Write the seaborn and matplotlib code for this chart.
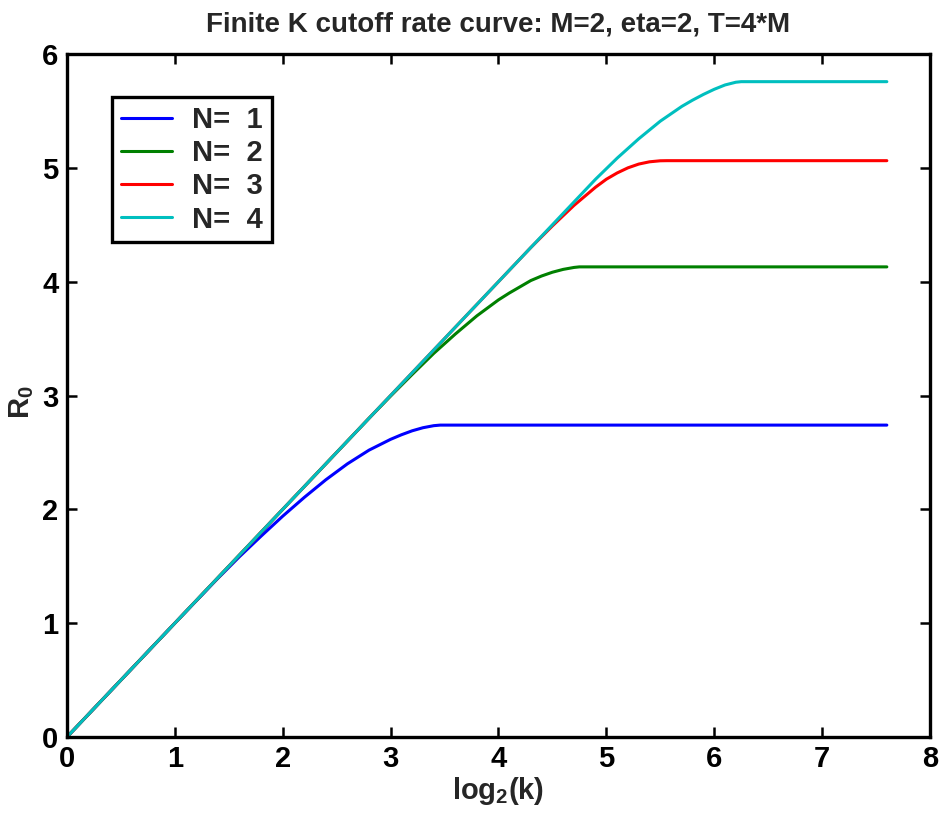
import numpy as np
import pandas as pd
import matplotlib
matplotlib.use("Agg")
import matplotlib.pyplot as plt
import seaborn as sns
from matplotlib.lines import Line2D

# ---- data ----
x_n1 = [0.0, 1.0, 1.4, 1.6, 1.8, 2.0, 2.2, 2.4, 2.6, 2.8, 3.0, 3.1, 3.2, 3.3, 3.4, 3.46, 7.6]
y_n1 = [0.0, 1.0, 1.395, 1.585, 1.765, 1.94, 2.105, 2.26, 2.40, 2.52, 2.615, 2.655, 2.69, 2.717, 2.735, 2.74, 2.74]

x_n2 = [0.0, 2.8, 3.0, 3.2, 3.4, 3.6, 3.8, 4.0, 4.1, 4.2, 4.3, 4.4, 4.5, 4.6, 4.7, 4.75, 7.6]
y_n2 = [0.0, 2.8, 2.995, 3.185, 3.37, 3.54, 3.70, 3.84, 3.90, 3.955, 4.01, 4.05, 4.083, 4.108, 4.125, 4.13, 4.13]

x_n3 = [0.0, 4.3, 4.5, 4.7, 4.9, 5.0, 5.1, 5.2, 5.3, 5.4, 5.5, 5.56, 7.6]
y_n3 = [0.0, 4.3, 4.49, 4.67, 4.83, 4.9, 4.955, 5.0, 5.033, 5.053, 5.062, 5.063, 5.063]

x_n4 = [0.0, 4.9, 5.1, 5.3, 5.5, 5.7, 5.8, 5.9, 6.0, 6.1, 6.2, 6.25, 7.6]
y_n4 = [0.0, 4.9, 5.085, 5.255, 5.41, 5.54, 5.595, 5.645, 5.69, 5.728, 5.752, 5.757, 5.757]

labels = ["N=  1", "N=  2", "N=  3", "N=  4"]
colors = ["#0000ff", "#008000", "#ff0000", "#00bfbf"]
xticks = [0, 1, 2, 3, 4, 5, 6, 7, 8]
yticks = [0, 1, 2, 3, 4, 5, 6]
title = "Finite K cutoff rate curve: M=2, eta=2, T=4*M"

frames = []
for xs, ys, lab in zip([x_n1, x_n2, x_n3, x_n4], [y_n1, y_n2, y_n3, y_n4], labels):
    frames.append(pd.DataFrame({"x": xs, "y": ys, "series": lab}))
df = pd.concat(frames, ignore_index=True)

sns.set_theme(style="white")
fam = ["Liberation Sans", "DejaVu Sans"]
plt.rcParams["font.family"] = fam
plt.rcParams["font.weight"] = "bold"
plt.rcParams["mathtext.fontset"] = "custom"
plt.rcParams["mathtext.rm"] = "Liberation Sans:bold"
plt.rcParams["mathtext.it"] = "Liberation Sans:bold"
plt.rcParams["mathtext.bf"] = "Liberation Sans:bold"
plt.rcParams["mathtext.default"] = "rm"

FS = 21

fig = plt.figure(figsize=(9.43, 8.17), dpi=100)
ax = fig.add_axes([0.0710, 0.0979, 0.9152, 0.8360])

sns.lineplot(data=df, x="x", y="y", hue="series", palette=colors,
             linewidth=2.2, ax=ax, sort=False, estimator=None, legend=False)

ax.set_xlim(0, 8)
ax.set_ylim(0, 6)
ax.set_xticks(xticks)
ax.set_yticks(yticks)
ax.set_xticklabels([str(t) for t in xticks])
ax.set_yticklabels([str(t) for t in yticks])

for s in ax.spines.values():
    s.set_visible(True)
    s.set_color("black")
    s.set_linewidth(2.4)

ax.tick_params(axis="both", which="both", direction="in", length=7, width=1.8,
               top=True, right=True, bottom=True, left=True,
               labelsize=FS, colors="black", pad=6)
for lab in ax.get_xticklabels() + ax.get_yticklabels():
    lab.set_fontweight("bold")

ax.set_title(title, fontsize=20, fontweight="bold", pad=16)
ax.set_xlabel("log$_2$(k)", fontsize=FS, fontweight="bold", labelpad=1)
ax.set_ylabel("R$_0$", fontsize=FS, fontweight="bold")
ax.yaxis.set_label_coords(-0.036, 0.49)

handles = [Line2D([0], [0], color=c, linewidth=2.2) for c in colors]
leg = ax.legend(handles, labels, loc="upper left", bbox_to_anchor=(0.052, 0.937),
                frameon=True, fancybox=False, framealpha=1,
                edgecolor="black", handlelength=1.75, handletextpad=0.7,
                labelspacing=0.18, borderpad=0.3, borderaxespad=0.0,
                prop={"weight": "bold", "size": FS})
leg.get_frame().set_linewidth(2.4)

fig.savefig("out.png", dpi=100)
